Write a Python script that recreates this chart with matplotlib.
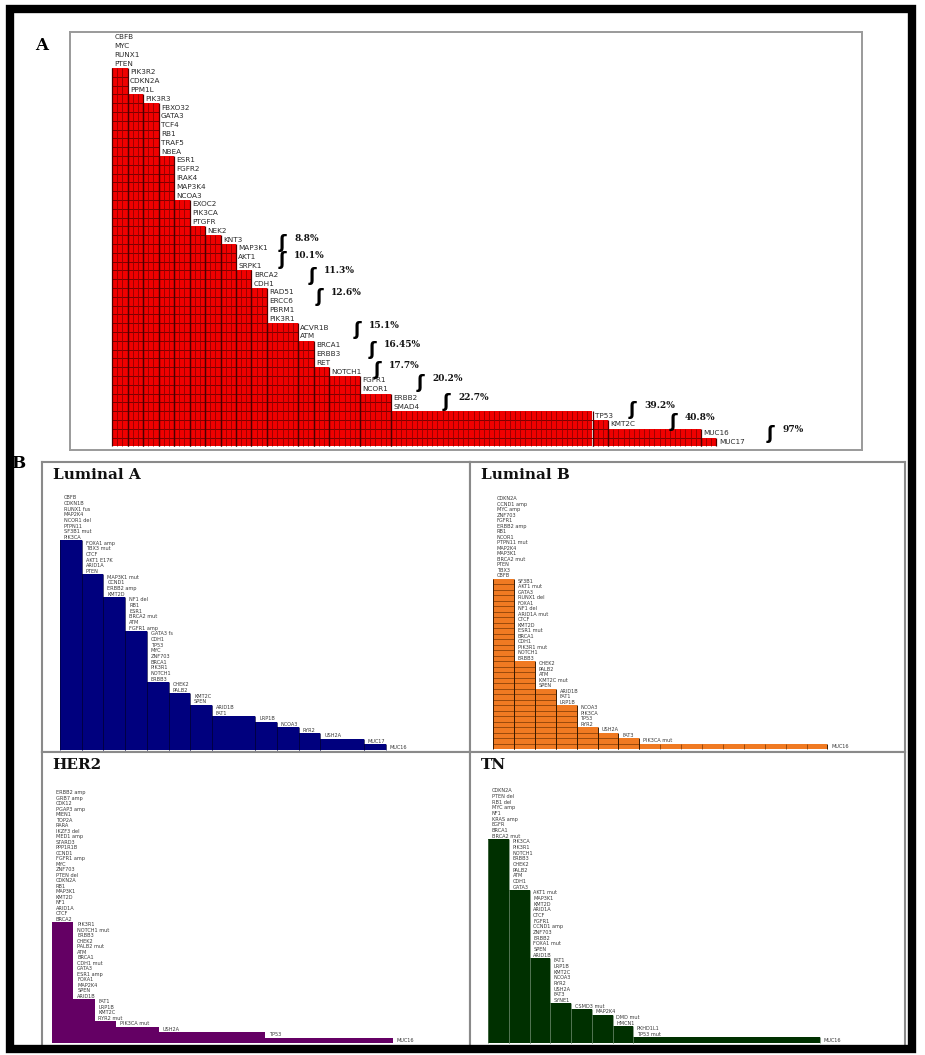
import matplotlib
matplotlib.use("Agg")
import matplotlib.pyplot as plt
from matplotlib.patches import Rectangle
import numpy as np

# ---------------- data ----------------
# Panel A: genes listed top -> bottom, staircase column heights (rows) and widths (units)
genes_A = ["CBFB", "MYC", "RUNX1", "PTEN", "PIK3R2", "CDKN2A", "PPM1L", "PIK3R3",
           "FBXO32", "GATA3", "TCF4", "RB1", "TRAF5", "NBEA", "ESR1", "FGFR2",
           "IRAK4", "MAP3K4", "NCOA3", "EXOC2", "PIK3CA", "PTGFR", "NEK2", "KNT3",
           "MAP3K1", "AKT1", "SRPK1", "BRCA2", "CDH1", "RAD51", "ERCC6", "PBRM1",
           "PIK3R1", "ACVR1B", "ATM", "BRCA1", "ERBB3", "RET", "NOTCH1", "FGFR1",
           "NCOR1", "ERBB2", "SMAD4", "TP53", "KMT2C", "MUC16", "MUC17"]
heights_A = [43, 40, 39, 33, 28, 25, 24, 23, 20, 18, 14, 12, 9, 8, 6, 4, 3, 2, 1]
widths_A = [1, 1, 1, 1, 1, 1, 1, 1, 1, 1, 2, 1, 1, 2, 2, 13, 1, 6, 1]
pct_A = ["8.8%", "10.1%", "11.3%", "12.6%", "15.1%", "16.45%", "17.7%",
         "20.2%", "22.7%", "39.2%", "40.8%", "97%"]

# Panel B subtypes
genes_LA = ["CBFB", "CDKN1B", "RUNX1 fus", "MAP2K4", "NCOR1 del", "PTPN11", "SF3B1 mut",
            "PIK3CA", "FOXA1 amp", "TBX3 mut", "CTCF", "AKT1 E17K", "ARID1A", "PTEN",
            "MAP3K1 mut", "CCND1", "ERBB2 amp", "KMT2D", "NF1 del", "RB1", "ESR1",
            "BRCA2 mut", "ATM", "FGFR1 amp", "GATA3 fs", "CDH1", "TP53", "MYC",
            "ZNF703", "BRCA1", "PIK3R1", "NOTCH1", "ERBB3", "CHEK2", "PALB2",
            "KMT2C", "SPEN", "ARID1B", "FAT1", "LRP1B", "NCOA3", "RYR2", "USH2A",
            "MUC17", "MUC16"]
heights_LA = [37, 31, 27, 21, 12, 10, 8, 6, 5, 4, 3, 2, 1]
widths_LA = [1, 1, 1, 1, 1, 1, 1, 2, 1, 1, 1, 2, 1]

genes_LB = ["CDKN2A", "CCND1 amp", "MYC amp", "ZNF703", "FGFR1", "ERBB2 amp", "RB1",
            "NCOR1", "PTPN11 mut", "MAP2K4", "MAP3K1", "BRCA2 mut", "PTEN",
            "TBX3", "CBFB", "SF3B1", "AKT1 mut", "GATA3", "RUNX1 del", "FOXA1",
            "NF1 del", "ARID1A mut", "CTCF", "KMT2D", "ESR1 mut", "BRCA1",
            "CDH1", "PIK3R1 mut", "NOTCH1", "ERBB3", "CHEK2", "PALB2", "ATM",
            "KMT2C mut", "SPEN", "ARID1B", "FAT1", "LRP1B", "NCOA3", "PIK3CA",
            "TP53", "RYR2", "USH2A", "FAT3", "PIK3CA mut", "MUC16"]
heights_LB = [31, 16, 11, 8, 4, 3, 2, 1]
widths_LB = [1, 1, 1, 1, 1, 1, 1, 9]

genes_HER2 = ["ERBB2 amp", "GRB7 amp", "CDK12", "PGAP3 amp", "MIEN1", "TOP2A",
              "RARA", "IKZF3 del", "MED1 amp", "STARD3", "PPP1R1B", "CCND1",
              "FGFR1 amp", "MYC", "ZNF703", "PTEN del", "CDKN2A", "RB1",
              "MAP3K1", "KMT2D", "NF1", "ARID1A", "CTCF", "BRCA2",
              "PIK3R1", "NOTCH1 mut", "ERBB3", "CHEK2", "PALB2 mut", "ATM",
              "BRCA1", "CDH1 mut", "GATA3", "ESR1 amp", "FOXA1", "MAP2K4",
              "SPEN", "ARID1B", "FAT1", "LRP1B", "KMT2C", "RYR2 mut",
              "PIK3CA mut", "USH2A", "TP53", "MUC16"]
heights_HER2 = [22, 8, 4, 3, 2, 1]
widths_HER2 = [1, 1, 1, 2, 5, 6]

genes_TN = ["CDKN2A", "PTEN del", "RB1 del", "MYC amp", "NF1", "KRAS amp",
            "EGFR", "BRCA1", "BRCA2 mut", "PIK3CA", "PIK3R1", "NOTCH1",
            "ERBB3", "CHEK2", "PALB2", "ATM", "CDH1", "GATA3",
            "AKT1 mut", "MAP3K1", "KMT2D", "ARID1A", "CTCF", "FGFR1",
            "CCND1 amp", "ZNF703", "ERBB2", "FOXA1 mut", "SPEN", "ARID1B",
            "FAT1", "LRP1B", "KMT2C", "NCOA3", "RYR2", "USH2A",
            "FAT3", "SYNE1", "CSMD3 mut", "MAP2K4", "DMD mut", "HMCN1",
            "PKHD1L1", "TP53 mut", "MUC16"]
heights_TN = [36, 27, 15, 7, 6, 5, 3, 1]
widths_TN = [1, 1, 1, 1, 1, 1, 1, 9]

# ---------------- figure ----------------
W, H, DPI = 925, 1055, 100
fig = plt.figure(figsize=(W / DPI, H / DPI), dpi=DPI)
fig.patch.set_facecolor("white")


def px_axes(x0, y0, x1, y1):
    return fig.add_axes([x0 / W, 1 - y1 / H, (x1 - x0) / W, (y1 - y0) / H])


def staircase(ax, heights, widths, labels, color, fs, hline=None, vline=None,
              vsub=1, edge=None, lab_color="#333333", pad=0.12):
    heights = np.asarray(heights)
    widths = np.asarray(widths, dtype=float)
    lefts = np.concatenate([[0.0], np.cumsum(widths)[:-1]])
    N = len(labels)
    ax.bar(lefts, heights, width=widths, align="edge", color=color,
           linewidth=0, zorder=2)
    for l, w, h in zip(lefts, widths, heights):
        if hline is not None and h > 1:
            ax.hlines(np.arange(1, h), l, l + w, colors=hline[0],
                      linewidth=hline[1], zorder=3)
        if vline is not None:
            xs = l + np.arange(1, int(round(w * vsub))) / vsub
            if len(xs):
                ax.vlines(xs, 0, h, colors=vline[0], linewidth=vline[1], zorder=3)
        if edge is not None:
            ax.vlines([l, l + w], 0, h, colors=edge[0], linewidth=edge[1], zorder=3)
    for r, lab in enumerate(labels):
        yc = N - r - 0.5
        idx = next((k for k, h in enumerate(heights) if h < N - r), len(heights))
        x = lefts[idx] if idx < len(heights) else lefts[-1] + widths[-1]
        ax.text(x + pad, yc, lab, va="center", ha="left", fontsize=fs,
                color=lab_color, zorder=4, family="DejaVu Sans")
    return lefts


def style_frame(ax, color="#8a8a8a", lw=1.3):
    ax.set_xticks([])
    ax.set_yticks([])
    for s in ax.spines.values():
        s.set_color(color)
        s.set_linewidth(lw)


# ---- Panel A ----
axA = px_axes(70, 32, 862, 450)
staircase(axA, heights_A, widths_A, genes_A, "#f00000", 5.2,
          hline=("#7a0000", 0.7), vline=("#900000", 0.6), vsub=3,
          edge=("#4a0000", 0.9), lab_color="#2a2a2a", pad=0.15)
axA.set_xlim(-42 / 15.5, 750 / 15.5)
axA.set_ylim(-0.4, 47.1)
style_frame(axA, "#9a9a9a", 1.4)

# percentage markers (layout anchors in data units)
pct_x = [11.0, 11.0, 12.9, 13.4, 15.8, 16.8, 17.1, 19.9, 21.6, 33.6, 36.2, 42.5]
pct_y = [23.1, 21.2, 19.4, 17.0, 13.2, 11.0, 8.7, 7.2, 5.0, 4.1, 2.8, 1.4]
for t, x, y in zip(pct_A, pct_x, pct_y):
    axA.text(x, y, "\u0283", fontsize=13, fontweight="bold", ha="center",
             va="center", color="black", zorder=5, family="DejaVu Sans")
    axA.text(x + 0.75, y + 0.55, t, fontsize=6.5, fontweight="bold", ha="left",
             va="center", color="#111111", zorder=5, family="DejaVu Serif")

fig.text(42 / W, 1 - 45 / H, "A", fontsize=12, fontweight="bold",
         family="DejaVu Serif", ha="center", va="center")
fig.text(18 / W, 1 - 463 / H, "B", fontsize=12, fontweight="bold",
         family="DejaVu Serif", ha="center", va="center")

# ---- Panel B ----
panels = [
    dict(box=(42, 462, 470, 752), left=60, bottom=750, ux=21.7, uy=5.67,
         genes=genes_LA, heights=heights_LA, widths=widths_LA, color="#00007e",
         title="Luminal A", kw=dict(edge=("#000040", 0.5))),
    dict(box=(470, 462, 905, 752), left=493, bottom=749, ux=20.9, uy=5.5,
         genes=genes_LB, heights=heights_LB, widths=widths_LB, color="#f07a22",
         title="Luminal B", kw=dict(hline=("#6a3000", 0.45), vline=("#6a3000", 0.45),
                                    vsub=1, edge=("#3a1a00", 0.7))),
    dict(box=(42, 752, 470, 1048), left=52, bottom=1043, ux=21.3, uy=5.5,
         genes=genes_HER2, heights=heights_HER2, widths=widths_HER2, color="#640064",
         title="HER2", kw=dict()),
    dict(box=(470, 752, 905, 1048), left=488, bottom=1043, ux=20.75, uy=5.67,
         genes=genes_TN, heights=heights_TN, widths=widths_TN, color="#003000",
         title="TN", kw=dict(edge=("#5a7a5a", 0.5))),
]
for p in panels:
    x0, y0, x1, y1 = p["box"]
    ax = px_axes(x0, y0, x1, y1)
    staircase(ax, p["heights"], p["widths"], p["genes"], p["color"], 3.6,
              lab_color="#3a3a3a", pad=0.18, **p["kw"])
    ax.set_xlim(-(p["left"] - x0) / p["ux"], (x1 - p["left"]) / p["ux"])
    ax.set_ylim(-(y1 - p["bottom"]) / p["uy"], (p["bottom"] - y0) / p["uy"])
    style_frame(ax, "#8a8a8a", 1.5)
    ax.text(0.025, 1 - 13 / (y1 - y0), p["title"], transform=ax.transAxes,
            fontsize=11, fontweight="bold", family="DejaVu Serif",
            ha="left", va="center", color="#111111")

# outer black border
fig.patches.append(Rectangle((10 / W, 1 - 1049 / H), (912 - 10) / W, (1049 - 9) / H,
                             transform=fig.transFigure, fill=False,
                             edgecolor="black", linewidth=6, zorder=10))

fig.savefig("out.png", dpi=DPI)
